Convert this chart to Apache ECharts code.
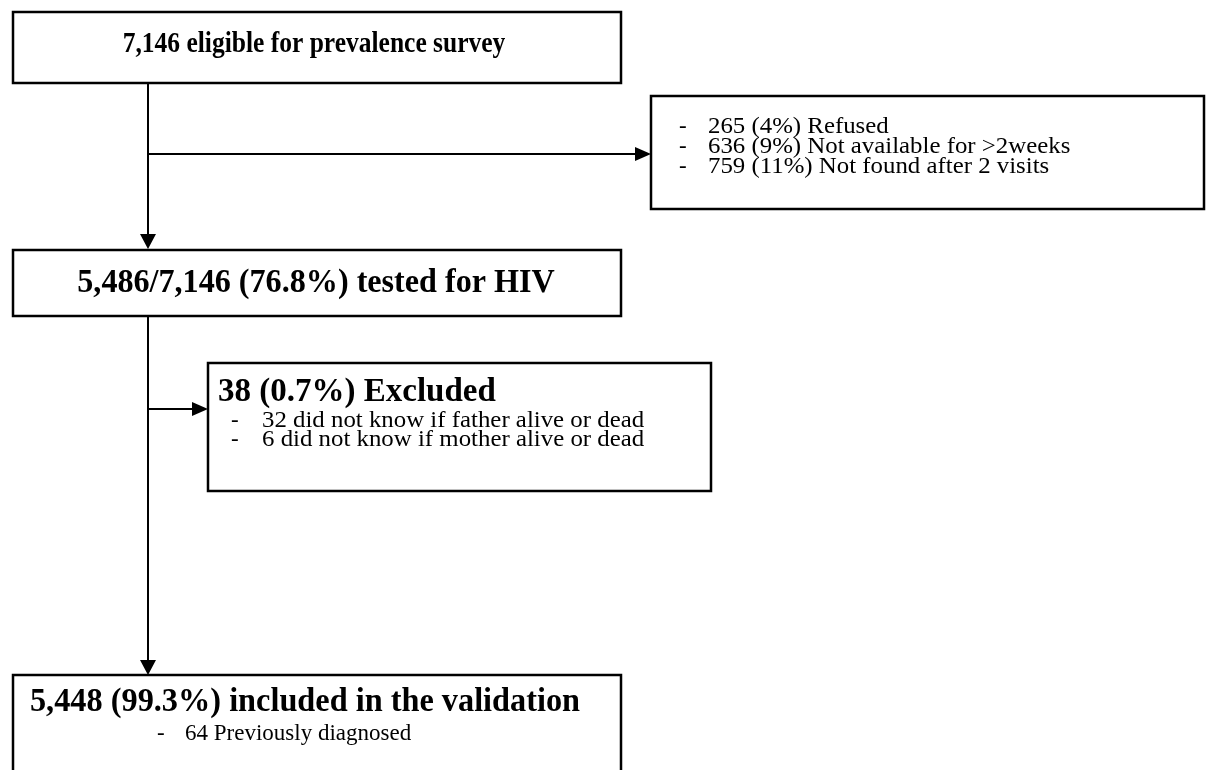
<!DOCTYPE html>
<html>
<head>
<meta charset="utf-8">
<script src="https://cdn.jsdelivr.net/npm/echarts@6/dist/echarts.min.js"></script>
<style>
html, body { margin: 0; padding: 0; background: #fff; }
#chart { width: 1207px; height: 770px; }
</style>
</head>
<body>
<div id="chart"></div>
<script>
// flow counts / texts
var eligibleTitle = '7,146 eligible for prevalence survey';
var notTestedItems = ['265 (4%) Refused', '636 (9%) Not available for >2weeks', '759 (11%) Not found after 2 visits'];
var testedTitle = '5,486/7,146 (76.8%) tested for HIV';
var excludedTitle = '38 (0.7%) Excluded';
var excludedItems = ['32 did not know if father alive or dead', '6 did not know if mother alive or dead'];
var includedTitle = '5,448 (99.3%) included in the validation';
var includedItems = ['64 Previously diagnosed'];

var SERIF = '"Liberation Serif", "Times New Roman", serif';

function box(x, y, w, h) {
	return {
		type: 'rect',
		shape: { x: x, y: y, width: w, height: h },
		style: { fill: '#fff', stroke: '#000', lineWidth: 2.5 }
	};
}

// sx: horizontal squeeze/stretch to match the scanned serif
function txt(s, x, y, size, bold, align, sx) {
	return {
		type: 'text',
		x: x,
		y: y,
		scaleX: sx || 1,
		style: {
			text: s,
			fill: '#000',
			font: (bold ? 'bold ' : '') + size + 'px ' + SERIF,
			align: align || 'left',
			verticalAlign: 'middle'
		}
	};
}

function line(x1, y1, x2, y2) {
	return {
		type: 'line',
		shape: { x1: x1, y1: y1, x2: x2, y2: y2 },
		style: { stroke: '#000', lineWidth: 2 }
	};
}

// arrow head, tip at (x, y)
function headDown(x, y) {
	return {
		type: 'polygon',
		shape: { points: [[x - 8, y - 15], [x + 8, y - 15], [x, y]] },
		style: { fill: '#000' }
	};
}

function headRight(x, y) {
	return {
		type: 'polygon',
		shape: { points: [[x - 16, y - 7], [x - 16, y + 7], [x, y]] },
		style: { fill: '#000' }
	};
}

function bullets(items, dashX, textX, y0, step, size, sx) {
	var out = [];
	for (var i = 0; i < items.length; i++) {
		out.push(txt('-', dashX, y0 + i * step, size, false));
		out.push(txt(items[i], textX, y0 + i * step, size, false, 'left', sx));
	}
	return out;
}

var els = [];
// connectors
els.push(line(148, 83, 148, 236));
els.push(headDown(148, 249));
els.push(line(148, 154, 637, 154));
els.push(headRight(651, 154));
els.push(line(148, 316, 148, 662));
els.push(headDown(148, 675));
els.push(line(148, 409, 194, 409));
els.push(headRight(208, 409));

// boxes
els.push(box(13, 12, 608, 71));
els.push(box(651, 96, 553, 113));
els.push(box(13, 250, 608, 66));
els.push(box(208, 363, 503, 128));
els.push(box(13, 675, 608, 120));

// texts
els.push(txt(eligibleTitle, 314, 44, 30, true, 'center', 0.85));
els = els.concat(bullets(notTestedItems, 679, 708, 127, 20, 23, 1.08));
els.push(txt(testedTitle, 316, 283, 34, true, 'center', 0.945));
els.push(txt(excludedTitle, 218, 392, 33, true, 'left', 1.0));
els = els.concat(bullets(excludedItems, 231, 262, 421, 19, 23, 1.08));
els.push(txt(includedTitle, 305, 702, 34, true, 'center', 0.95));
els = els.concat(bullets(includedItems, 157, 185, 734, 20, 23));

var chart = echarts.init(document.getElementById('chart'), null, { renderer: 'canvas' });
chart.setOption({
	backgroundColor: '#fff',
	animation: false,
	graphic: { elements: els }
});
</script>
</body>
</html>
